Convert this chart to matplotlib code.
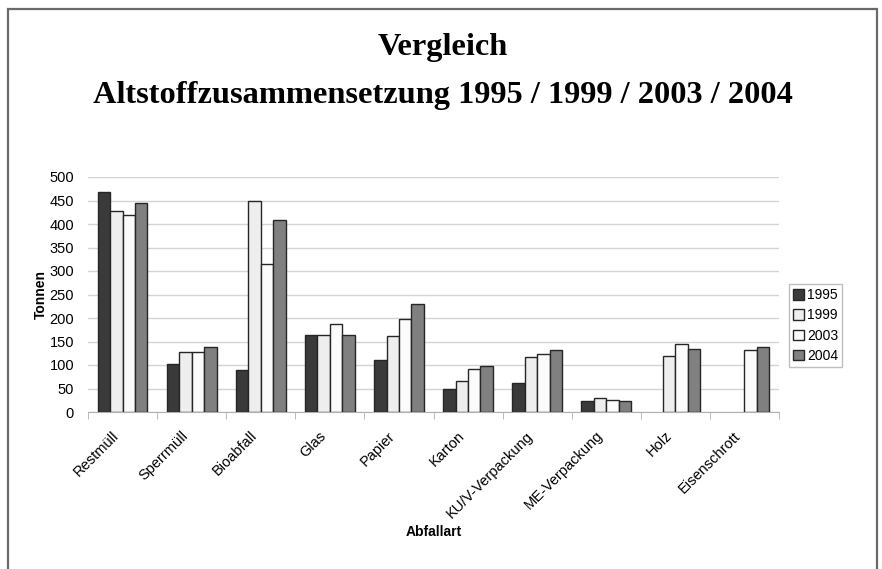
import numpy as np
import matplotlib
matplotlib.use('Agg')
import matplotlib.pyplot as plt
from matplotlib.patches import Rectangle
from matplotlib.transforms import ScaledTranslation

categories = ['Restmüll', 'Sperrmüll', 'Bioabfall', 'Glas', 'Papier', 'Karton',
              'KU/V-Verpackung', 'ME-Verpackung', 'Holz', 'Eisenschrott']
years = ['1995', '1999', '2003', '2004']
# nan = no bar in that year
v1995 = [468, 103, 90, 164, 110, 50, 61, 23, np.nan, np.nan]
v1999 = [427, 128, 448, 164, 161, 65, 116, 30, 119, np.nan]
v2003 = [419, 127, 314, 187, 198, 91, 123, 25, 145, 132]
v2004 = [445, 139, 408, 164, 229, 98, 132, 23, 135, 139]
colors = ['#3a3a3a', '#eeeeee', '#fbfbfb', '#808080']

plt.rcParams['font.family'] = ['Liberation Sans', 'DejaVu Sans']

W, H = 882, 569
fig = plt.figure(figsize=(W / 100, H / 100), dpi=100)
ax = fig.add_axes([88 / W, 1 - 412 / H, (779 - 88) / W, (412 - 177) / H])

x = np.arange(len(categories))
bw = 0.18
for i, (vals, col, yr) in enumerate(zip([v1995, v1999, v2003, v2004], colors, years)):
    ax.bar(x + (i - 1.5) * bw, vals, bw, color=col, edgecolor='#262626',
           linewidth=1.0, label=yr, zorder=3)

ax.set_xlim(-0.5, len(categories) - 0.5)
ax.set_ylim(0, 500)
ax.set_yticks(np.arange(0, 501, 50))
ax.yaxis.grid(True, color='#d4d4d4', linewidth=1.0, zorder=0)
ax.set_axisbelow(True)

ax.set_xticks(x)
ax.set_xticks(np.arange(-0.5, len(categories)), minor=True)
ax.tick_params(axis='x', which='major', length=0, pad=12)
ax.tick_params(axis='x', which='minor', length=5, color='#b0b0b0', direction='out')
ax.tick_params(axis='y', length=0, labelsize=10.5, pad=10)
ax.set_xticklabels(categories, rotation=45, ha='right', rotation_mode='anchor', fontsize=10.5)
# labels sit a bit left of the group centre, like in the original
shift = ScaledTranslation(-0.11, 0, fig.dpi_scale_trans)
for lab in ax.get_xticklabels():
    lab.set_transform(lab.get_transform() + shift)

for s in ['top', 'right', 'left']:
    ax.spines[s].set_visible(False)
ax.spines['bottom'].set_color('#b0b0b0')

ax.set_ylabel('Tonnen', fontsize=10, fontweight='bold', labelpad=1)
ax.set_xlabel('Abfallart', fontsize=10, fontweight='bold', labelpad=3)

leg = fig.legend(loc='upper left', bbox_to_anchor=(789 / W, 1 - 284 / H), fontsize=10,
                 frameon=True, fancybox=False, edgecolor='#b0b0b0', handlelength=0.8,
                 handleheight=0.8, handletextpad=0.2, borderpad=0.3, labelspacing=0.45,
                 borderaxespad=0)
leg.get_frame().set_linewidth(1.0)

tfont = dict(family='Liberation Serif', fontweight='bold', fontsize=23.3, ha='center', va='center')
fig.text(443 / W, 1 - 48 / H, 'Vergleich', **tfont)
fig.text(443 / W, 1 - 95 / H, 'Altstoffzusammensetzung 1995 / 1999 / 2003 / 2004', **tfont)

fig.patches.append(Rectangle((8 / W, -0.1), (877 - 8) / W, 1.1 - 9 / H,
                             transform=fig.transFigure, fill=False,
                             edgecolor='#6a6a6a', linewidth=1.6))

fig.savefig('out.png', dpi=100)
